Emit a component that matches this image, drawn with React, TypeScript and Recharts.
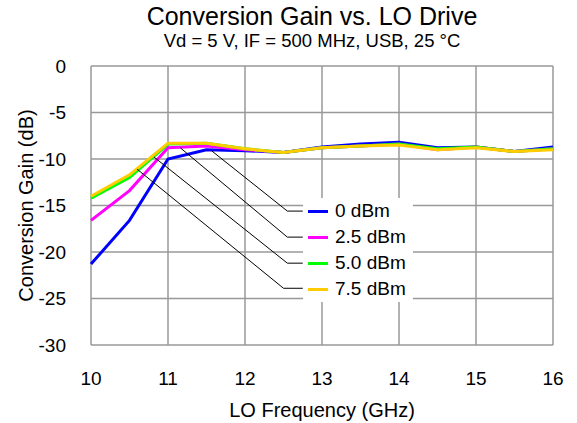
import React from "react";
import {
  LineChart,
  Line,
  XAxis,
  YAxis,
  CartesianGrid,
  ReferenceLine,
  Label,
} from "recharts";

const frequencies = [10, 10.5, 11, 11.5, 12, 12.5, 13, 13.5, 14, 14.5, 15, 15.5, 16];
const gain0dBm = [-21.3, -16.6, -10.0, -9.0, -9.1, -9.3, -8.7, -8.4, -8.2, -8.8, -8.7, -9.2, -8.7];
const gain25dBm = [-16.6, -13.4, -8.8, -8.6, -9.0, -9.3, -8.8, -8.6, -8.4, -9.0, -8.7, -9.2, -8.9];
const gain50dBm = [-14.2, -12.0, -8.4, -8.3, -8.9, -9.3, -8.8, -8.6, -8.4, -8.9, -8.7, -9.2, -8.9];
const gain75dBm = [-14.0, -11.7, -8.3, -8.3, -8.9, -9.3, -8.8, -8.6, -8.5, -9.0, -8.8, -9.2, -9.0];

const seriesNames = ["0 dBm", "2.5 dBm", "5.0 dBm", "7.5 dBm"];
const seriesKeys = ["g0", "g25", "g50", "g75"];
const seriesColors = ["#0000FF", "#FF00FF", "#00FF00", "#FFCC00"];

const xTicks = [10, 11, 12, 13, 14, 15, 16];
const yTicks = [-30, -25, -20, -15, -10, -5, 0];

// leader lines from each curve to its legend entry
const leaderStartX = [11.57, 11.16, 10.82, 10.6];
const leaderStartY = [-9.14, -8.8, -9.8, -11.1];
const leaderElbowX = [12.55, 12.55, 12.55, 12.5];
const leaderElbowY = [-15.6, -18.4, -21.2, -23.9];
const leaderEndX = [12.75, 12.75, 12.75, 12.75];

const data = frequencies.map((f, i) => ({
  f,
  g0: gain0dBm[i],
  g25: gain25dBm[i],
  g50: gain50dBm[i],
  g75: gain75dBm[i],
}));

const FONT = "Arial, 'Liberation Sans', sans-serif";

const LegendBox = () => (
  <div
    style={{
      position: "absolute",
      left: 303,
      top: 198,
      background: "#fff",
      width: 110,
      height: 104,
      boxSizing: "border-box",
      paddingTop: 0,
      fontFamily: FONT,
      zIndex: 2,
    }}
  >
    {seriesNames.map((n, i) => (
      <div
        key={n}
        style={{ display: "flex", alignItems: "center", height: 26, fontSize: 19, color: "#000", whiteSpace: "nowrap" }}
      >
        <span
          style={{ display: "inline-block", width: 20, height: 3, background: seriesColors[i], marginLeft: 5, marginRight: 7 }}
        />
        <span>{n}</span>
      </div>
    ))}
  </div>
);

export default function App() {
  return (
    <div style={{ position: "absolute", left: 0, top: 0, width: 577, height: 423, background: "#fff", fontFamily: FONT }}>
      <div
        style={{
          position: "absolute",
          left: 312,
          top: 2,
          transform: "translateX(-50%)",
          whiteSpace: "nowrap",
          textAlign: "center",
          color: "#000",
          zIndex: 2,
        }}
      >
        <div style={{ fontSize: 25, lineHeight: "28px" }}>Conversion Gain vs. LO Drive</div>
        <div style={{ fontSize: 18.5, lineHeight: "21px" }}>Vd = 5 V, IF = 500 MHz, USB, 25 °C</div>
      </div>
      <LineChart
        width={577}
        height={423}
        data={data}
        margin={{ top: 66, right: 24, bottom: 0, left: 0 }}
      >
        <CartesianGrid stroke="#999" strokeWidth={1.5} />
        <XAxis
          dataKey="f"
          type="number"
          domain={[10, 16]}
          ticks={xTicks}
          height={78}
          axisLine={false}
          tickLine={false}
          tickMargin={21}
          tick={{ fill: "#000", fontSize: 19, fontFamily: FONT }}
          interval={0}
        >
          <Label value="LO Frequency (GHz)" position="insideBottom" offset={6} style={{ fill: "#000", fontSize: 20, fontFamily: FONT }} />
        </XAxis>
        <YAxis
          type="number"
          domain={[-30, 0]}
          ticks={yTicks}
          width={91}
          axisLine={false}
          tickLine={false}
          tickMargin={19}
          tick={{ fill: "#000", fontSize: 19, fontFamily: FONT }}
          interval={0}
        >
          <Label value="Conversion Gain (dB)" angle={-90} position="center" dx={-20} style={{ fill: "#000", fontSize: 20, fontFamily: FONT, textAnchor: "middle" }} />
        </YAxis>
        {seriesKeys.map((k, i) => (
          <Line
            key={k}
            dataKey={k}
            name={seriesNames[i]}
            stroke={seriesColors[i]}
            strokeWidth={3}
            dot={false}
            isAnimationActive={false}
            type="linear"
          />
        ))}
        {seriesKeys.map((k, i) => (
          <ReferenceLine
            key={"l" + k}
            segment={[
              { x: leaderStartX[i], y: leaderStartY[i] },
              { x: leaderElbowX[i], y: leaderElbowY[i] },
            ]}
            stroke="#000"
            strokeWidth={1}
            ifOverflow="visible"
          />
        ))}
        {seriesKeys.map((k, i) => (
          <ReferenceLine
            key={"h" + k}
            segment={[
              { x: leaderElbowX[i], y: leaderElbowY[i] },
              { x: leaderEndX[i], y: leaderElbowY[i] },
            ]}
            stroke="#000"
            strokeWidth={1}
            ifOverflow="visible"
          />
        ))}
      </LineChart>
      <LegendBox />
    </div>
  );
}
